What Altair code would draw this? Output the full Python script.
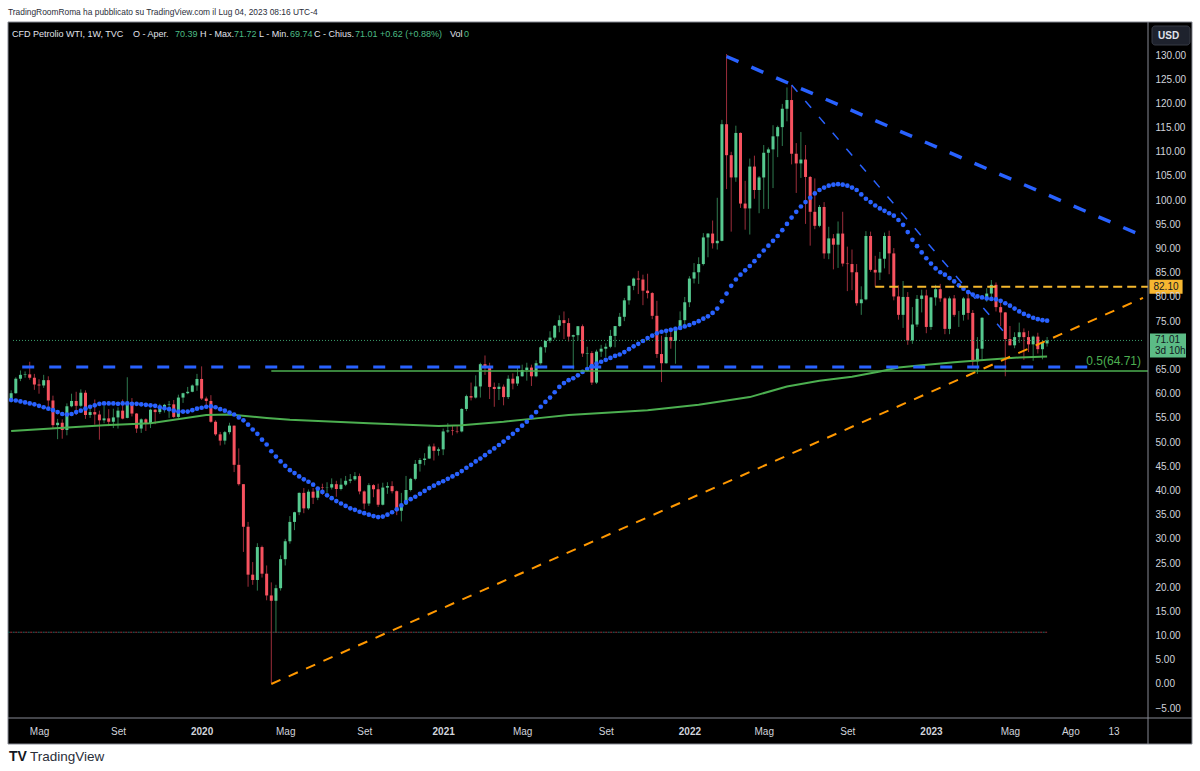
import altair as alt
import pandas as pd

# ------------------------------------------------------------------ data
WEEK_START = "2019-03-25"   # first weekly bar (Mondays, one bar per week)

opens = [
    # 2019
    58.9, 60.1, 63.1, 63.9, 64.0, 63.3, 61.9, 61.7, 62.8, 58.6,
    53.5, 54.0, 52.5, 57.4, 58.5, 57.5, 60.2, 55.6, 56.2, 55.7,
    54.5, 54.9, 54.2, 55.1, 56.5, 55.0, 58.1, 55.9, 52.8, 54.7,
    53.8, 56.7, 56.2, 57.2, 57.7, 57.8, 55.2, 59.2, 60.1, 60.4, 61.7,
    # 2020
    63.05, 59.0, 58.5, 54.2, 51.6, 50.3, 52.05, 53.4, 45.3, 41.3,
    32.5, 22.6, 21.5, 28.3, 22.8, 18.3, 17.2, 19.8, 25.8, 29.5,
    33.5, 35.5, 39.5, 36.3, 39.75, 38.5, 40.65, 40.55, 40.6, 41.3,
    40.3, 41.2, 42.0, 42.3, 42.97, 39.8, 37.3, 41.1, 40.25, 37.05,
    40.6, 40.9, 39.85, 35.8, 37.1, 40.1, 42.4, 45.5, 46.3, 46.6,
    49.1, 48.2,
    # 2021
    48.5, 52.2, 52.4, 52.3, 52.2, 56.85, 59.5, 59.2, 61.5, 66.1,
    65.6, 61.4, 60.97, 61.45, 59.3, 63.1, 62.1, 63.6, 64.9, 65.4,
    63.6, 66.3, 69.6, 70.9, 71.6, 74.05, 75.2, 74.6, 71.8, 72.1,
    73.95, 68.3, 68.4, 62.3, 68.7, 69.3, 69.7, 71.95, 73.98, 75.9,
    79.3, 82.3, 83.8, 83.6, 81.3, 80.8, 76.1, 68.2, 66.3, 71.7,
    70.9, 73.8,
    # 2022
    75.2, 78.9, 83.8, 85.1, 86.8, 92.3, 93.1, 91.1, 91.6, 115.7,
    109.3, 104.7, 113.9, 99.3, 98.3, 106.95, 102.1, 104.7, 109.8, 110.5,
    113.2, 115.1, 118.9, 120.7, 109.6, 107.6, 108.4, 104.8, 97.6, 94.7,
    98.6, 89.0, 92.1, 90.8, 93.1, 86.9, 86.8, 85.1, 78.7, 79.5,
    92.6, 85.6, 85.05, 87.9, 92.6, 89.0, 80.1, 76.3, 80.0, 71.0,
    74.3, 79.6,
    # 2023
    80.3, 73.8, 79.9, 81.6, 79.7, 73.4, 79.7, 76.3, 76.3, 79.7,
    76.7, 66.7, 69.3, 79.4, 80.7, 82.5, 77.9, 76.8, 71.3, 70.0,
    71.7, 72.7, 71.7, 70.2, 71.8, 69.2, 70.39,
]
highs = [
    # 2019
    60.7, 63.4, 64.8, 64.6, 66.6, 64.1, 63.0, 63.9, 63.6, 59.6,
    54.8, 54.7, 58.0, 60.0, 60.4, 60.9, 60.7, 57.5, 58.8, 56.5,
    57.5, 56.8, 56.9, 57.2, 58.8, 63.4, 59.1, 56.0, 54.9, 54.9,
    56.9, 56.8, 57.9, 57.9, 58.5, 58.7, 59.8, 60.2, 61.4, 61.9, 64.1,
    # 2020
    65.65, 59.4, 59.7, 54.5, 52.1, 52.3, 54.0, 53.4, 48.7, 41.3,
    33.5, 25.2, 29.1, 28.6, 24.5, 21.0, 20.5, 26.6, 30.0, 34.7,
    35.6, 39.6, 40.5, 40.2, 40.5, 40.8, 41.4, 41.7, 42.5, 42.0,
    42.5, 43.0, 43.4, 43.8, 43.5, 40.0, 41.5, 41.3, 41.4, 41.6,
    41.7, 41.9, 40.0, 39.5, 43.0, 42.6, 46.3, 46.7, 47.7, 49.5,
    49.7, 48.9,
    # 2021
    52.8, 53.9, 53.4, 53.5, 57.0, 59.8, 62.3, 63.8, 66.4, 67.9,
    66.4, 62.3, 62.2, 61.9, 63.8, 64.2, 65.4, 66.0, 66.4, 66.0,
    66.9, 69.8, 71.0, 72.9, 74.2, 76.2, 77.0, 75.6, 72.2, 74.0,
    74.3, 69.7, 68.8, 69.1, 70.1, 70.4, 73.2, 74.0, 76.7, 79.8,
    82.4, 84.0, 85.4, 84.6, 84.8, 81.0, 79.2, 72.0, 72.9, 72.8,
    73.8, 77.0,
    # 2022
    80.0, 84.3, 87.0, 88.2, 93.2, 93.2, 95.8, 100.5, 116.6, 130.2,
    110.0, 115.4, 114.0, 104.0, 108.6, 109.2, 105.0, 111.4, 110.9, 115.5,
    115.4, 119.9, 123.3, 123.7, 111.8, 114.1, 111.4, 105.0, 104.5, 99.0,
    99.6, 94.5, 93.0, 95.6, 97.6, 90.4, 89.8, 86.8, 82.2, 93.6,
    93.5, 88.5, 89.3, 93.3, 93.7, 90.1, 82.4, 83.3, 81.0, 77.9,
    80.4, 81.5,
    # 2023
    81.5, 80.0, 82.5, 82.7, 79.9, 80.1, 80.4, 77.1, 80.0, 80.9,
    77.3, 71.7, 75.8, 81.8, 83.5, 83.0, 79.2, 76.9, 74.0, 72.7,
    74.7, 73.5, 73.0, 72.0, 72.6, 70.9, 71.72,
]
lows = [
    # 2019
    58.2, 60.0, 62.6, 63.3, 62.9, 60.8, 60.0, 61.2, 57.4, 52.9,
    50.6, 50.7, 51.4, 57.2, 55.6, 57.2, 54.8, 55.0, 53.6, 50.5,
    53.9, 53.3, 52.9, 52.8, 54.7, 54.9, 55.3, 51.9, 51.9, 52.3,
    52.9, 53.7, 55.8, 56.1, 55.0, 55.0, 55.0, 58.1, 59.9, 60.3, 60.6,
    # 2020
    58.7, 57.4, 54.0, 51.3, 49.3, 49.5, 51.6, 43.8, 41.0, 27.3,
    20.1, 20.5, 19.3, 22.0, 17.3, 0.2, 10.6, 19.3, 24.5, 29.0,
    31.8, 34.9, 35.3, 36.0, 37.2, 38.0, 39.1, 39.5, 40.2, 38.7,
    40.0, 40.9, 41.5, 42.0, 39.2, 36.1, 36.8, 38.6, 36.6, 36.9,
    39.3, 39.4, 34.9, 33.6, 37.0, 39.8, 42.1, 43.9, 45.2, 46.5,
    46.2, 47.2,
    # 2021
    47.3, 51.9, 51.4, 51.8, 52.0, 56.4, 58.6, 59.0, 59.2, 63.9,
    58.9, 57.3, 58.7, 57.6, 58.9, 60.9, 61.6, 63.5, 62.7, 61.6,
    63.4, 66.0, 68.5, 70.5, 71.2, 72.7, 71.3, 70.8, 65.0, 71.0,
    67.6, 65.2, 61.8, 62.0, 67.6, 67.6, 69.4, 69.6, 73.8, 75.0,
    78.4, 81.4, 80.6, 78.3, 79.7, 75.4, 67.4, 62.4, 66.2, 69.3,
    66.2, 73.2,
    # 2022
    74.3, 77.9, 82.8, 82.7, 86.5, 88.2, 90.0, 89.8, 91.5, 102.3,
    93.5, 103.8, 98.4, 93.9, 92.9, 100.3, 97.3, 98.2, 98.2, 102.5,
    108.9, 111.2, 116.3, 107.4, 101.5, 104.6, 95.1, 90.6, 94.0, 94.4,
    87.9, 87.8, 85.7, 86.0, 86.3, 81.2, 81.4, 78.2, 76.3, 79.3,
    85.2, 82.1, 83.5, 85.9, 84.7, 79.3, 75.3, 73.6, 70.1, 70.3,
    73.8, 76.8,
    # 2023
    72.5, 73.2, 78.2, 79.0, 72.3, 72.3, 75.9, 73.8, 75.1, 75.3,
    65.6, 64.1, 66.8, 79.0, 79.8, 77.0, 74.0, 63.6, 70.0, 69.4,
    70.5, 67.0, 68.6, 66.8, 68.3, 67.1, 69.74,
]
closes = [
    # 2019
    60.1, 63.1, 63.9, 64.0, 63.3, 61.9, 61.7, 62.8, 58.6, 53.5,
    54.0, 52.5, 57.4, 58.5, 57.5, 60.2, 55.6, 56.2, 55.7, 54.5,
    54.9, 54.2, 55.1, 56.5, 54.85, 58.1, 55.9, 52.8, 54.7, 53.8,
    56.7, 56.2, 57.2, 57.7, 57.8, 55.2, 59.2, 60.1, 60.4, 61.7, 63.05,
    # 2020
    59.0, 58.5, 54.2, 51.6, 50.3, 52.05, 53.4, 45.3, 41.3, 32.5,
    22.6, 21.5, 28.3, 22.8, 18.3, 17.2, 19.8, 25.8, 29.5, 33.5,
    35.5, 39.5, 36.3, 39.75, 38.5, 40.65, 40.55, 40.6, 41.3, 40.3,
    41.2, 42.0, 42.3, 42.97, 39.8, 37.3, 41.1, 40.25, 37.05, 40.6,
    40.9, 39.85, 35.8, 37.1, 40.1, 42.4, 45.5, 46.3, 46.6, 49.1,
    48.2, 48.5,
    # 2021
    52.2, 52.4, 52.3, 52.2, 56.85, 59.5, 59.2, 61.5, 66.1, 65.6,
    61.4, 60.97, 61.45, 59.3, 63.1, 62.1, 63.6, 64.9, 65.4, 63.6,
    66.3, 69.6, 70.9, 71.6, 74.05, 75.2, 74.6, 71.8, 72.1, 73.95,
    68.3, 68.4, 62.3, 68.7, 69.3, 69.7, 71.95, 73.98, 75.9, 79.3,
    82.3, 83.8, 83.6, 81.3, 80.8, 76.1, 68.2, 66.3, 71.7, 70.9,
    73.8, 75.2,
    # 2022
    78.9, 83.8, 85.1, 86.8, 92.3, 93.1, 91.1, 91.6, 115.7, 109.3,
    104.7, 113.9, 99.3, 98.3, 106.95, 102.1, 104.7, 109.8, 110.5, 113.2,
    115.1, 118.9, 120.7, 109.6, 107.6, 108.4, 104.8, 97.6, 94.7, 98.6,
    89.0, 92.1, 90.8, 93.1, 86.9, 86.8, 85.1, 78.7, 79.5, 92.6,
    85.6, 85.05, 87.9, 92.6, 89.0, 80.1, 76.3, 80.0, 71.0, 74.3,
    79.6, 80.3,
    # 2023
    73.8, 79.9, 81.6, 79.7, 73.4, 79.7, 76.3, 76.3, 79.7, 76.7,
    66.7, 69.3, 75.7, 80.7, 82.5, 77.9, 76.8, 71.3, 70.0, 71.7,
    72.7, 71.7, 70.2, 71.8, 69.2, 70.6, 71.01,
]

# blue dotted moving average, one dot per weekly bar
ma_fast = [
    58.7, 58.6, 58.4, 58.2, 58.0, 57.8, 57.5, 57.2, 56.9, 56.6,
    56.2, 55.8, 55.7, 55.8, 56.2, 56.5, 56.9, 57.3, 57.6, 57.9,
    58.0, 58.0, 58.0, 57.9, 58.0, 58.0, 57.9, 57.9, 57.8, 57.7,
    57.6, 57.5, 57.2, 57.0, 56.8, 56.5, 56.3, 56.3, 56.3, 56.6,
    56.9, 57.1, 57.3, 57.4, 57.2, 56.8, 56.5, 56.1, 55.7, 55.1,
    54.5, 53.6, 52.6, 51.7, 50.5, 49.5, 48.1, 47.0, 46.0, 45.1,
    44.2, 43.6, 42.9, 42.3, 41.8, 41.2, 40.4, 39.7, 39.0, 38.4,
    37.8, 37.3, 36.8, 36.3, 36.0, 35.6, 35.3, 35.0, 34.7, 34.5,
    34.6, 35.0, 35.5, 36.1, 36.9, 37.6, 38.2, 38.7, 39.3, 39.9,
    40.5, 41.0, 41.5, 41.9, 42.4, 42.9, 43.4, 44.0, 44.7, 45.3,
    46.0, 46.6, 47.3, 48.0, 48.7, 49.4, 50.1, 50.9, 51.7, 52.5,
    53.4, 54.2, 55.2, 56.2, 57.3, 58.3, 59.2, 60.3, 61.4, 62.2,
    62.8, 63.2, 63.8, 64.5, 65.1, 65.7, 66.2, 66.6, 67.0, 67.4,
    67.8, 68.1, 68.6, 69.2, 69.8, 70.3, 70.9, 71.5, 72.0, 72.5,
    72.8, 73.0, 73.2, 73.4, 73.6, 73.9, 74.2, 74.6, 75.0, 75.5,
    76.0, 76.7, 77.6, 79.1, 80.7, 82.3, 83.6, 84.6, 85.5, 86.4,
    87.4, 88.5, 89.6, 90.6, 91.6, 92.6, 93.8, 95.1, 96.4, 97.6,
    98.7, 99.6, 100.5, 101.4, 102.1, 102.6, 103.0, 103.2, 103.3, 103.2,
    103.0, 102.6, 102.1, 101.2, 100.3, 99.6, 98.9, 98.3, 97.8, 97.3,
    96.8, 95.9, 94.9, 93.4, 91.8, 90.5, 89.2, 88.0, 86.9, 85.9,
    85.1, 84.6, 83.9, 83.2, 82.4, 81.7, 81.0, 80.5, 80.1, 79.9,
    79.7, 79.6, 79.5, 79.2, 78.7, 78.2, 77.6, 77.0, 76.5, 76.1,
    75.7, 75.4, 75.2, 75.1,
]

# green slow moving average
ma_slow_dates = [
    "2019-03-25", "2019-08-12", "2019-10-21", "2020-01-13", "2020-02-17",
    "2020-04-13", "2020-05-18", "2020-09-14", "2020-12-28", "2021-02-01",
    "2021-04-05", "2021-05-24", "2021-07-12", "2021-11-08", "2022-01-24",
    "2022-04-11", "2022-06-06", "2022-07-25", "2022-09-12", "2022-10-24",
    "2022-11-21", "2022-12-26", "2023-02-13", "2023-04-03", "2023-05-22",
    "2023-07-03",
]
ma_slow = [
    52.3, 53.5, 53.9, 55.6, 55.7, 55.0, 54.6, 53.9, 53.3, 53.5,
    54.2, 54.9, 55.6, 56.6, 57.7, 59.3, 61.5, 62.7, 63.5, 64.6,
    65.4, 65.9, 66.5, 67.0, 67.5, 67.7,
]

# drawings (date, price) pairs
RIGHT = "2023-11-24T12:00:00Z"
LEFT = "2019-03-27T19:00:00Z"
res_dates, res_prices = ["2022-03-07", RIGHT], [129.7, 92.6]          # thick blue dashed
res2_dates, res2_prices = ["2022-06-13", "2023-05-07"], [123.8, 71.5]  # thin blue dashed
sup_dates, sup_prices = ["2020-04-20", RIGHT], [0.0, 79.8]             # orange dashed
hline_blue_dates, hline_blue = ["2019-03-01", "2023-09-18"], 65.5
fib_dates, fib_level = ["2020-04-20", "2023-12-31"], 64.71
yellow_dates, yellow_level = ["2022-10-17", "2023-12-31"], 82.10
last_price = 71.01
low_line_dates, low_line = ["2019-03-01", "2023-07-03"], 10.7

price_ticks = [p for p in range(-5, 131, 5) if p != 70]
x_tick_dates = ["2019-05-06", "2019-09-02", "2020-01-06", "2020-05-11", "2020-09-07",
                "2021-01-04", "2021-05-03", "2021-09-06", "2022-01-10", "2022-05-02",
                "2022-09-05", "2023-01-09", "2023-05-08", "2023-08-07", "2023-10-11"]
x_tick_labels = ["Mag", "Set", "2020", "Mag", "Set", "2021", "Mag", "Set", "2022",
                 "Mag", "Set", "2023", "Mag", "Ago", "13"]

# ------------------------------------------------------------------ styling
W, H = 1140, 696
FONT = "Liberation Sans, Arial, sans-serif"
UP, DN = "#56c98f", "#f7525f"
UP_W, DN_W = "#2f7a4f", "#9b2d3a"
BLUE = "#2962ff"
BORDER = "#868993"
AXIS_TXT = "#d1d4dc"
GREEN_LVL = "#4caf50"

assert len(opens) == len(highs) == len(lows) == len(closes) == len(ma_fast) == 224

dates = pd.date_range(WEEK_START, periods=len(closes), freq="7D").strftime("%Y-%m-%d")
candles = pd.DataFrame({"date": dates, "open": opens, "high": highs, "low": lows, "close": closes})
dots = pd.DataFrame({"date": dates, "ma": ma_fast})
slow = pd.DataFrame({"date": ma_slow_dates, "ma": ma_slow})
ONE = pd.DataFrame({"a": [0]})


def ms(s):
    t = pd.Timestamp(s)
    if t.tzinfo is None:
        t = t.tz_localize("UTC")
    return int(t.value // 10**6)


XS = alt.Scale(type="utc", domain=[ms(LEFT), ms(RIGHT)])
YS = alt.Scale(domain=[-7.03, 136.83], nice=False, zero=False)

tick_ms = [ms(d) for d in x_tick_dates]
expr = "''"
for m, lab in reversed(list(zip(tick_ms, x_tick_labels))):
    expr = f"time(datum.value) == {m} ? '{lab}' : ({expr})"

XAXIS = alt.Axis(values=tick_ms, labelExpr=expr, labelColor=AXIS_TXT, labelFont=FONT,
                 labelFontSize=10, labelPadding=8, domain=False, ticks=False, tickSize=0,
                 grid=False, title=None, labelOverlap=False, labelFlush=False,
                 labelBound=False, zindex=2,
                 labelFontWeight={"condition": {"test": "utcmonth(datum.value) == 0", "value": "bold"},
                                  "value": "normal"})
YAXIS = alt.Axis(orient="right", values=price_ticks, format=".2f", labelColor=AXIS_TXT,
                 labelFont=FONT, labelFontSize=10, labelPadding=7, domain=False, ticks=False,
                 tickSize=0, grid=False, title=None, labelOverlap=False, labelFlush=False,
                 zindex=2)


def xe(field="date"):
    return alt.X(f"{field}:T", scale=XS, axis=XAXIS)


def ye(field):
    return alt.Y(f"{field}:Q", scale=YS, axis=YAXIS)


def seg(dts, prices, color, width, dash=None, offset=None):
    df = pd.DataFrame({"date": dts, "p": prices})
    kw = dict(color=color, strokeWidth=width, clip=True)
    if dash:
        kw["strokeDash"] = dash
    if offset:
        kw["strokeDashOffset"] = offset
    return alt.Chart(df).mark_line(**kw).encode(x=xe(), y=ye("p"))


def txt(s, x, y, color, size=11, weight="normal", align="left", font=FONT):
    return alt.Chart(ONE).mark_text(text=s, align=align, baseline="middle", fontSize=size,
                                    fontWeight=weight, font=font, color=color).encode(
        x=alt.value(x), y=alt.value(y))


layers = []

# dark panel with border
layers.append(alt.Chart(ONE).mark_rect(fill="#000000", stroke=BORDER, strokeWidth=1).encode(
    x=alt.value(0), x2=alt.value(1184), y=alt.value(0), y2=alt.value(722)))

# candles
cond_w = alt.condition("datum.close >= datum.open", alt.value(UP_W), alt.value(DN_W))
cond_b = alt.condition("datum.close >= datum.open", alt.value(UP), alt.value(DN))
base = alt.Chart(candles)
layers.append(base.mark_rule(strokeWidth=1, clip=True).encode(
    x=xe(), y=ye("low"), y2="high:Q", color=cond_w))
layers.append(base.mark_bar(size=3, clip=True).encode(
    x=xe(), y=ye("open"), y2="close:Q", color=cond_b))

# moving averages
layers.append(alt.Chart(slow).mark_line(color=GREEN_LVL, strokeWidth=2, clip=True).encode(
    x=xe(), y=ye("ma")))
layers.append(alt.Chart(dots).mark_circle(size=22, color=BLUE, opacity=1, clip=True).encode(
    x=xe(), y=ye("ma")))

# drawings
layers.append(seg([LEFT, RIGHT], [last_price, last_price], "#3a9d6b", 1, [1, 2]))
layers.append(seg(low_line_dates, [low_line, low_line], "#9c2f3a", 1, [2, 3]))
layers.append(seg(low_line_dates, [low_line, low_line], "#1f6b66", 1, [2, 3], 2.5))
layers.append(seg(fib_dates, [fib_level, fib_level], GREEN_LVL, 1.5))
layers.append(seg(hline_blue_dates, [hline_blue, hline_blue], BLUE, 3, [12, 15]))
layers.append(seg(yellow_dates, [yellow_level, yellow_level], "#f5b82e", 2, [9, 5]))
layers.append(seg(sup_dates, sup_prices, "#ff9800", 2, [10, 9]))
layers.append(seg(res_dates, res_prices, BLUE, 3.5, [13, 14]))
layers.append(seg(res2_dates, res2_prices, BLUE, 1.5, [9, 12]))

# separators between plot and axes
layers.append(alt.Chart(ONE).mark_rule(color=BORDER, strokeWidth=1).encode(
    x=alt.value(W), y=alt.value(0), y2=alt.value(722)))
layers.append(alt.Chart(ONE).mark_rule(color=BORDER, strokeWidth=1).encode(
    y=alt.value(H), x=alt.value(0), x2=alt.value(1184)))

# fib label
layers.append(alt.Chart(pd.DataFrame({"p": [fib_level], "t": ["0.5(64.71)"]})).mark_text(
    align="right", baseline="middle", dy=-10, fontSize=12, font=FONT, color=GREEN_LVL).encode(
    x=alt.value(1133), y=ye("p"), text="t:N"))

# price boxes on the axis
yb = pd.DataFrame({"p": [yellow_level], "t": ["82.10"]})
layers.append(alt.Chart(yb).mark_point(shape="M-1,-0.42H1V0.42H-1Z", filled=True, size=1100,
                                       color="#f7b731", opacity=1, strokeWidth=0).encode(
    x=alt.value(1158), y=ye("p")))
layers.append(alt.Chart(yb).mark_text(align="center", baseline="middle", fontSize=10, font=FONT,
                                      color="#131722").encode(x=alt.value(1158), y=ye("p"), text="t:N"))
gb = pd.DataFrame({"p": [last_price], "t": ["71.01"], "t2": ["3d 10h"]})
layers.append(alt.Chart(gb).mark_point(shape="M-1,-0.667H1V0.667H-1Z", filled=True, size=1296,
                                       color="#5cbc86", opacity=1, strokeWidth=0, yOffset=5).encode(
    x=alt.value(1160), y=ye("p")))
layers.append(alt.Chart(gb).mark_text(align="left", baseline="middle", fontSize=10, font=FONT,
                                      color="#131722").encode(x=alt.value(1147), y=ye("p"), text="t:N"))
layers.append(alt.Chart(gb).mark_text(align="left", baseline="middle", fontSize=10, font=FONT,
                                      color="#131722", dy=11).encode(x=alt.value(1147), y=ye("p"), text="t2:N"))

# USD box
layers.append(alt.Chart(ONE).mark_rect(fill="#1e222d", stroke="#363a45", cornerRadius=3).encode(
    x=alt.value(1144), x2=alt.value(1182), y=alt.value(4), y2=alt.value(23)))
layers.append(txt("USD", 1150, 14, "#e0e3eb", size=10, weight="bold"))

# header line
WHITE, GVAL = "#e0e3eb", "#4cbc84"
header = [("CFD Petrolio WTI, 1W, TVC", 12, WHITE), ("O - Aper.", 133, WHITE), ("70.39", 175, GVAL),
          ("H - Max.", 200, WHITE), ("71.72", 234, GVAL), ("L - Min.", 259, WHITE),
          ("69.74", 290, GVAL), ("C - Chius.", 314, WHITE), ("71.01", 355, GVAL),
          ("+0.62 (+0.88%)", 380, GVAL), ("Vol", 450, WHITE), ("0", 464, GVAL)]
for s, xa, c in header:
    layers.append(txt(s, xa - 8, 12, c, size=9))

# publication line and footer
layers.append(txt("TradingRoomRoma ha pubblicato su TradingView.com il Lug 04, 2023 08:16 UTC-4",
                  0, -10, "#2a2e39", size=8.4))
layers.append(txt("TV", 1, 735, "#131722", size=14, weight="bold"))
layers.append(txt("TradingView", 22, 735, "#2a2e39", size=13.5))

chart = alt.layer(*layers).properties(
    width=W, height=H, background="white", autosize="none",
    padding={"left": 8, "top": 22, "right": 52, "bottom": 53},
).configure_view(stroke=None)

chart.save("out.html", embed_options={"renderer": "svg", "actions": False})
